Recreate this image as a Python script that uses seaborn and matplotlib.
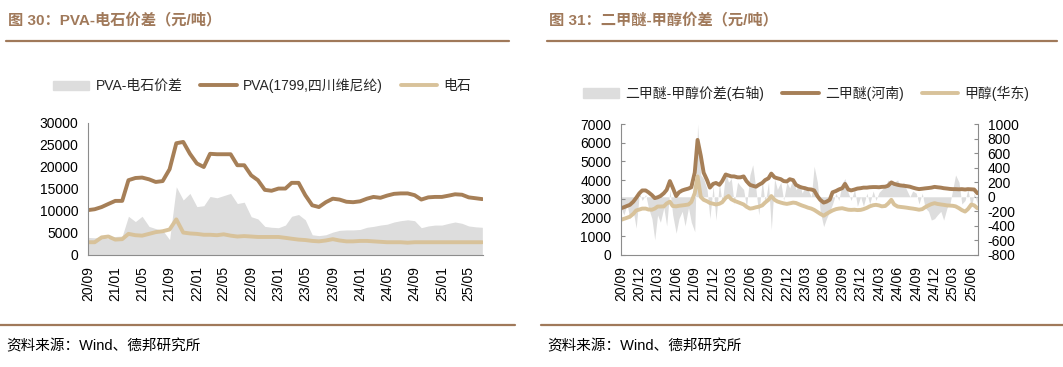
"""
PVA-电石价差 / 二甲醚-甲醇价差 双图
"""
import pandas as pd
import numpy as np
import matplotlib
matplotlib.use("Agg")
import matplotlib.pyplot as plt
import matplotlib.dates as mdates
from matplotlib.lines import Line2D
from matplotlib.patches import Patch
import seaborn as sns

sns.set_theme(style="white")
plt.rcParams['font.family'] = ['Liberation Sans', 'Noto Sans CJK SC', 'DejaVu Sans']
plt.rcParams['axes.unicode_minus'] = False

# ---- 图30 数据（月度，2020-09 ~ 2025-07）----
pva_dates = pd.date_range("2020-09-01", "2025-07-01", freq="MS")
pva_price = [10200, 10400, 10900, 11600, 12300, 12300, 17000, 17500, 17600, 17200,
             16600, 16800, 19500, 25400, 25700, 23000, 20800, 20000, 23000, 22900,
             22900, 22900, 20400, 20400, 18100, 17000, 14800, 14600, 15100, 15100,
             16400, 16400, 13600, 11300, 10900, 12000, 12800, 12600, 12100, 12000,
             12200, 12800, 13200, 13000, 13500, 13900, 14000, 14000, 13600, 12600,
             13100, 13200, 13200, 13500, 13800, 13700, 13100, 12900, 12700]
carbide_price = [2900, 2900, 4000, 4200, 3500, 3600, 4800, 4500, 4400, 4800,
                 5200, 5400, 5800, 8100, 5100, 4900, 4800, 4600, 4600, 4500,
                 4700, 4400, 4200, 4300, 4200, 4100, 4100, 4100, 4100, 3900,
                 3700, 3500, 3400, 3200, 3100, 3300, 3600, 3300, 3100, 3100,
                 3200, 3200, 3100, 3000, 2900, 2900, 2900, 2800, 2900, 2900,
                 2900, 2900, 2900, 2900, 2900, 2900, 2900, 2900, 2900]
pva_spread = [4000, 3900, 4200, 3700, 4200, 4300, 8800, 7600, 8800, 6500,
              6000, 5600, 3500, 15500, 12500, 14000, 11000, 11200, 13300, 13000,
              13500, 14000, 11700, 12000, 8700, 8200, 6500, 6300, 6200, 6800,
              8800, 9200, 8000, 4600, 4400, 4600, 5200, 5600, 5700, 5700,
              5800, 6300, 6500, 6800, 7000, 7500, 7800, 8000, 7800, 6200,
              6600, 6800, 6800, 7200, 7500, 7200, 6600, 6400, 6300]

# ---- 图31 数据（半月度，2020-09 ~ 2025-07）----
dme_dates = pd.date_range("2020-09-01", "2025-07-01", freq="SMS")
dme_price = [2500, 2550, 2620, 2680, 2850, 3050, 3300, 3450, 3450, 3350,
             3200, 3040, 3080, 3150, 3300, 3480, 3950, 3600, 3150, 3350,
             3450, 3500, 3550, 3620, 4400, 6150, 5300, 4400, 4000, 3600,
             3800, 3850, 3750, 3950, 4300, 4250, 4200, 4200, 4150, 4150,
             4200, 3950, 3750, 3700, 3650, 3750, 3850, 4000, 4100, 4350,
             4150, 4100, 4050, 3950, 3930, 4050, 4000, 3750, 3650, 3600,
             3570, 3520, 3500, 3450, 3150, 2950, 2800, 2850, 2950, 3350,
             3420, 3500, 3570, 3800, 3500, 3450, 3500, 3550, 3570, 3600,
             3600, 3620, 3630, 3630, 3620, 3640, 3650, 3700, 3880, 3800,
             3750, 3720, 3700, 3680, 3650, 3600, 3550, 3520, 3540, 3560,
             3580, 3600, 3640, 3620, 3600, 3570, 3550, 3530, 3520, 3520,
             3510, 3520, 3500, 3520, 3510, 3500, 3300]
methanol_price = [1880, 1930, 1990, 2050, 2200, 2380, 2430, 2480, 2480, 2430,
                  2420, 2480, 2590, 2590, 2600, 2750, 2850, 2620, 2600, 2630,
                  2650, 2670, 2700, 2830, 3300, 4200, 3100, 2950, 2870, 2780,
                  2740, 2700, 2740, 2820, 3050, 3150, 2980, 2900, 2830, 2770,
                  2700, 2580, 2480, 2500, 2550, 2580, 2650, 2800, 2950, 3150,
                  2950, 2860, 2800, 2760, 2730, 2760, 2800, 2780, 2700, 2640,
                  2590, 2530, 2480, 2410, 2300, 2200, 2100, 2200, 2300, 2380,
                  2450, 2480, 2500, 2460, 2420, 2410, 2420, 2400, 2410, 2450,
                  2520, 2600, 2660, 2680, 2650, 2600, 2620, 2750, 2950, 2700,
                  2590, 2570, 2550, 2530, 2500, 2480, 2450, 2420, 2450, 2550,
                  2650, 2720, 2770, 2730, 2700, 2680, 2650, 2640, 2630, 2600,
                  2500, 2400, 2320, 2450, 2700, 2650, 2500]
dme_spread = [-150, -250, -100, -300, -200, -430, 50, -50, 30, -150,
              -300, -590, -250, -350, -150, -400, 100, -250, -500, -300,
              -200, -400, -150, -350, -480, 1000, 300, 250, 100, -300,
              150, -320, 190, -100, 350, 200, 250, -100, 200, 150,
              100, -150, 300, 440, 100, -250, 230, -100, 200, -450,
              250, 100, 200, -50, 200, 120, 250, 100, 180, 50,
              150, 100, 0, 420, 200, -200, -410, -300, -200, -100,
              50, -50, 190, 250, 50, -50, 100, -130, 0, -130,
              50, -100, 80, -50, 60, 100, 150, 230, 180, 200,
              230, 150, 200, 100, 0, 80, 50, -100, 50, -150,
              -200, -320, -300, -250, -200, -320, -150, -100, 100, 300,
              200, -100, -50, 100, -150, 50, -100]

DARK = '#A67F57'
LIGHT = '#D8C29A'
GRAY = '#DDDDDD'
TITLE_C = '#A0795A'
SPINE_C = '#8C8C8C'

W, H = 1063, 367
fig = plt.figure(figsize=(W / 100, H / 100), dpi=100)


def fx(px):
    return px / W


def fy(py):
    return 1 - py / H


def style_axes(ax):
    for s in ['top', 'right']:
        ax.spines[s].set_visible(False)
    for s in ['left', 'bottom']:
        ax.spines[s].set_color(SPINE_C)
        ax.spines[s].set_linewidth(0.8)
    ax.tick_params(axis='both', direction='in', length=3, width=0.8,
                   colors=SPINE_C, labelcolor='black', labelsize=10)
    ax.tick_params(axis='y', pad=7)
    ax.tick_params(axis='x', rotation=90, pad=8)
    ax.set_xlabel('')
    ax.set_ylabel('')
    ax.grid(False)


# 标题、分隔线、来源
for x0, x1, title in [(6, 509, '图 30：PVA-电石价差（元/吨）'),
                      (547, 1057, '图 31：二甲醚-甲醇价差（元/吨）')]:
    fig.text(fx(x0 + 2), fy(20), title, fontsize=11, fontweight='bold',
             color=TITLE_C, va='center', ha='left')
    fig.add_artist(Line2D([fx(x0), fx(x1)], [fy(41), fy(41)], color=TITLE_C, lw=1.6))
    fig.add_artist(Line2D([fx(x0 - 6), fx(x1 + 6)], [fy(325), fy(325)], color=TITLE_C, lw=1.6))
    fig.text(fx(x0), fy(346), '资料来源：Wind、德邦研究所', fontsize=10.5,
             color='black', va='center', ha='left')

# ---- 图30 ----
ax1 = fig.add_axes([fx(88), fy(255), fx(483 - 88), (255 - 123) / H])
ax1.fill_between(pva_dates, 0, pva_spread, color=GRAY, lw=0)
sns.lineplot(x=pva_dates, y=pva_price, ax=ax1, color=DARK, lw=2.8)
sns.lineplot(x=pva_dates, y=carbide_price, ax=ax1, color=LIGHT, lw=2.8)
ax1.set_ylim(0, 30000)
ax1.set_yticks(range(0, 30001, 5000))
ax1.set_xlim(pd.Timestamp("2020-09-01"), pd.Timestamp("2025-07-04"))
ax1.set_xticks(pd.date_range("2020-09-01", "2025-05-01", freq="4MS"))
ax1.xaxis.set_major_formatter(mdates.DateFormatter('%y/%m'))
style_axes(ax1)

handles1 = [Patch(color=GRAY), Line2D([], [], color=DARK, lw=2.8),
            Line2D([], [], color=LIGHT, lw=2.8)]
fig.legend(handles1, ['PVA-电石价差', 'PVA(1799,四川维尼纶)', '电石'],
           loc='center', bbox_to_anchor=(fx(262), fy(86)), ncol=3, frameon=False,
           fontsize=10, handlelength=2.6, handletextpad=0.45, columnspacing=1.3)

# ---- 图31 ----
ax2 = fig.add_axes([fx(621), fy(255), fx(978 - 621), (255 - 124) / H])
ax2r = ax2.twinx()
ax2r.fill_between(dme_dates, 0, dme_spread, color=GRAY, lw=0)
ax2.set_zorder(ax2r.get_zorder() + 1)
ax2.patch.set_visible(False)
sns.lineplot(x=dme_dates, y=dme_price, ax=ax2, color=DARK, lw=2.8)
sns.lineplot(x=dme_dates, y=methanol_price, ax=ax2, color=LIGHT, lw=2.8)
ax2.set_ylim(0, 7000)
ax2.set_yticks(range(0, 7001, 1000))
ax2r.set_ylim(-800, 1000)
ax2r.set_yticks(range(-800, 1001, 200))
ax2.set_xlim(pd.Timestamp("2020-09-01"), pd.Timestamp("2025-07-04"))
ax2.set_xticks(pd.date_range("2020-09-01", "2025-06-01", freq="3MS"))
ax2.xaxis.set_major_formatter(mdates.DateFormatter('%y/%m'))
style_axes(ax2)
for s in ['top', 'left', 'bottom']:
    ax2r.spines[s].set_visible(False)
ax2r.spines['right'].set_color(SPINE_C)
ax2r.spines['right'].set_linewidth(0.8)
ax2r.tick_params(axis='y', direction='in', length=3, width=0.8,
                 colors=SPINE_C, labelcolor='black', labelsize=10, pad=7)
ax2r.grid(False)

handles2 = [Patch(color=GRAY), Line2D([], [], color=DARK, lw=2.8),
            Line2D([], [], color=LIGHT, lw=2.8)]
fig.legend(handles2, ['二甲醚-甲醇价差(右轴)', '二甲醚(河南)', '甲醇(华东)'],
           loc='center', bbox_to_anchor=(fx(806), fy(93)), ncol=3, frameon=False,
           fontsize=10, handlelength=2.6, handletextpad=0.45, columnspacing=1.3)

fig.savefig('out.png', dpi=100)
